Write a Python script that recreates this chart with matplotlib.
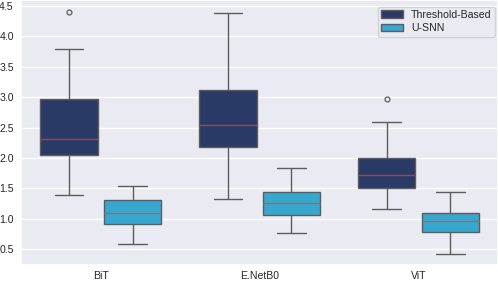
import matplotlib
matplotlib.use("Agg")
import matplotlib.pyplot as plt
import seaborn as sns
from matplotlib.patches import Patch

sns.set_theme(style="darkgrid")
plt.rcParams['font.family'] = ['Liberation Sans', 'DejaVu Sans']

models = ['BiT', 'E.NetB0', 'ViT']
methods = ['Threshold-Based', 'U-SNN']
colors = ['#2a3a66', '#38a7d0']
median_colors = ['#8a4a62', '#6e7a80']

# box statistics: [BiT, E.NetB0, ViT]
thr_low = [1.39, 1.32, 1.17]
thr_q1 = [2.05, 2.19, 1.50]
thr_med = [2.31, 2.54, 1.72]
thr_q3 = [2.97, 3.12, 2.00]
thr_high = [3.79, 4.38, 2.59]
thr_fliers = [[4.40], [], [2.97]]

snn_low = [0.59, 0.77, 0.43]
snn_q1 = [0.91, 1.07, 0.79]
snn_med = [1.09, 1.26, 0.96]
snn_q3 = [1.31, 1.45, 1.09]
snn_high = [1.54, 1.84, 1.44]
snn_fliers = [[], [], []]


def make_stats(low, q1, med, q3, high, fliers):
    out = []
    for i in range(len(low)):
        out.append(dict(whislo=low[i], q1=q1[i], med=med[i], q3=q3[i],
                        whishi=high[i], fliers=fliers[i]))
    return out


groups = [make_stats(thr_low, thr_q1, thr_med, thr_q3, thr_high, thr_fliers),
          make_stats(snn_low, snn_q1, snn_med, snn_q3, snn_high, snn_fliers)]

fig = plt.figure(figsize=(4.98, 2.82), dpi=100)
ax = fig.add_axes([0.043, 0.06, 0.957, 0.94])

line_c = '#5c5c5c'
offsets = [-0.2, 0.2]
for g, stats in enumerate(groups):
    pos = [i + offsets[g] for i in range(len(models))]
    ax.bxp(stats, positions=pos, widths=0.36, patch_artist=True,
           boxprops=dict(facecolor=colors[g], edgecolor=line_c, linewidth=1),
           medianprops=dict(color=median_colors[g], linewidth=1),
           whiskerprops=dict(color=line_c, linewidth=1),
           capprops=dict(color=line_c, linewidth=1),
           flierprops=dict(marker='o', markerfacecolor='none',
                           markeredgecolor=line_c, markersize=3.5,
                           markeredgewidth=0.9),
           manage_ticks=False)

fs = 7.6
ax.set_xlim(-0.5, 2.5)
ax.set_ylim(0.24, 4.60)
ax.set_xticks(range(len(models)))
ax.set_xticklabels(models, fontsize=fs)
ax.set_yticks([0.5, 1.0, 1.5, 2.0, 2.5, 3.0, 3.5, 4.0, 4.5])
ax.set_yticklabels(['0.5', '1.0', '1.5', '2.0', '2.5', '3.0', '3.5', '4.0', '4.5'],
                   fontsize=fs)
ax.tick_params(axis='y', length=0, pad=5.5)
ax.tick_params(axis='x', length=0, pad=4.5)
ax.grid(axis='x', visible=False)

handles = [Patch(facecolor=colors[i], edgecolor=line_c, label=methods[i])
           for i in range(len(methods))]
ax.legend(handles=handles, loc='upper right', fontsize=fs, frameon=True,
          handlelength=2.1, handleheight=0.7, borderpad=0.3,
          labelspacing=0.35, handletextpad=0.75,
          bbox_to_anchor=(1.004, 0.995))

fig.savefig('out.png', dpi=100)
